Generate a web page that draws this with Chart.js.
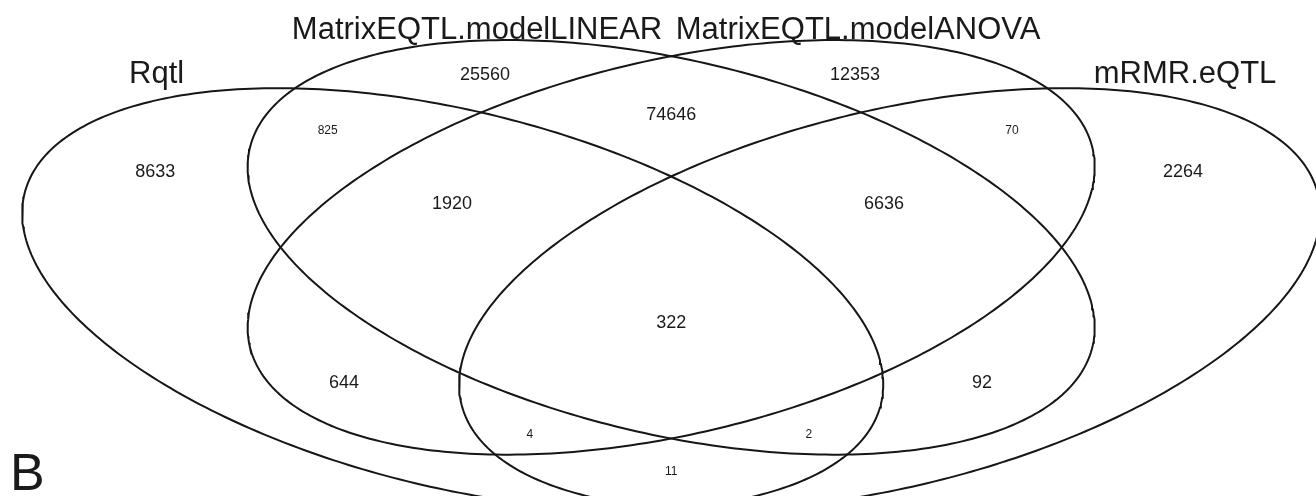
<!DOCTYPE html>
<html>
<head>
<meta charset="utf-8">
<title>Four-set Venn diagram</title>
<script src="https://cdn.jsdelivr.net/npm/chart.js@4.4.1/dist/chart.umd.min.js"></script>
<style>
    html, body { margin: 0; padding: 0; background: #fff; }
    #wrap { position: relative; width: 1316px; height: 496px; }
</style>
</head>
<body>
<div id="wrap"><canvas id="venn"></canvas></div>
<script>
// Set names (one ellipse each)
const setNames = ["Rqtl", "MatrixEQTL.modelLINEAR", "MatrixEQTL.modelANOVA", "mRMR.eQTL"];

// Ellipse geometry in data units: centre, semi axes, tilt in degrees
const ellipseX = [0.334, 0.5, 0.5, 0.666];
const ellipseY = [0.306, 0.386, 0.386, 0.306];
const ellipseA = [0.388, 0.379, 0.379, 0.388];
const ellipseB = [0.252, 0.252, 0.252, 0.252];
const ellipseTilt = [135, 135, 45, 45];

// Where the set names sit
const nameX = [0.109, 0.3525, 0.642, 0.8905];
const nameY = [0.654, 0.723, 0.723, 0.654];

// Region counts
const regionCounts = [8633, 25560, 825, 74646, 12353, 70, 2264, 1920, 6636, 322, 644, 92, 4, 2, 11];
// Region label positions
const regionX = [0.108, 0.3585, 0.239, 0.5, 0.6397, 0.759, 0.889, 0.3335, 0.6617, 0.5, 0.2514, 0.7362, 0.3927, 0.6047, 0.5];
const regionY = [0.503, 0.6536, 0.5666, 0.5915, 0.6536, 0.5666, 0.503, 0.4533, 0.4533, 0.2686, 0.1754, 0.1754, 0.0947, 0.0947, 0.0373];
// small print for the tiny regions
const smallRegions = [2, 5, 12, 13, 14];

// Outline of one ellipse as points
function ellipsePoints(i) {
    const r = ellipseTilt[i] * Math.PI / 180;
    const pts = [];
    for (let k = 0; k <= 360; k++) {
        const t = k * Math.PI / 180;
        const u = ellipseA[i] * Math.cos(t);
        const v = ellipseB[i] * Math.sin(t);
        pts.push({
            x: ellipseX[i] + u * Math.cos(r) - v * Math.sin(r),
            y: ellipseY[i] + u * Math.sin(r) + v * Math.cos(r)
        });
    }
    return pts;
}

const datasets = setNames.map((name, i) => ({
    label: name,
    data: ellipsePoints(i),
    showLine: true,
    fill: false,
    borderColor: '#161616',
    borderWidth: 2,
    pointRadius: 0,
    tension: 0
}));

// Draws set names, counts and the panel letter
const vennText = {
    id: 'vennText',
    afterDatasetsDraw(chart) {
        const ctx = chart.ctx;
        const xs = chart.scales.x, ys = chart.scales.y;
        const font = '"Liberation Sans", Arial, Helvetica, sans-serif';
        ctx.save();
        ctx.fillStyle = '#1a1a1a';
        ctx.textAlign = 'center';
        ctx.textBaseline = 'middle';

        ctx.font = '31px ' + font;
        setNames.forEach((name, i) => {
            ctx.fillText(name, xs.getPixelForValue(nameX[i]), ys.getPixelForValue(nameY[i]));
        });

        regionCounts.forEach((n, i) => {
            ctx.font = (smallRegions.includes(i) ? '12px ' : '18px ') + font;
            ctx.fillText(String(n), xs.getPixelForValue(regionX[i]), ys.getPixelForValue(regionY[i]));
        });

        // panel letter
        ctx.font = '52px ' + font;
        ctx.textAlign = 'left';
        ctx.textBaseline = 'alphabetic';
        ctx.fillText('B', chart.chartArea.left + 10, chart.chartArea.bottom - 6);
        ctx.restore();
    }
};

new Chart(document.getElementById('venn'), {
    type: 'scatter',
    data: { datasets: datasets },
    options: {
        responsive: true,
        maintainAspectRatio: false,
        animation: false,
        layout: { padding: 0 },
        scales: {
            x: { type: 'linear', min: -0.01, max: 0.99, display: false },
            y: { type: 'linear', min: 0, max: 0.77, display: false }
        },
        plugins: {
            legend: { display: false },
            tooltip: { enabled: false }
        }
    },
    plugins: [vennText]
});
</script>
</body>
</html>
